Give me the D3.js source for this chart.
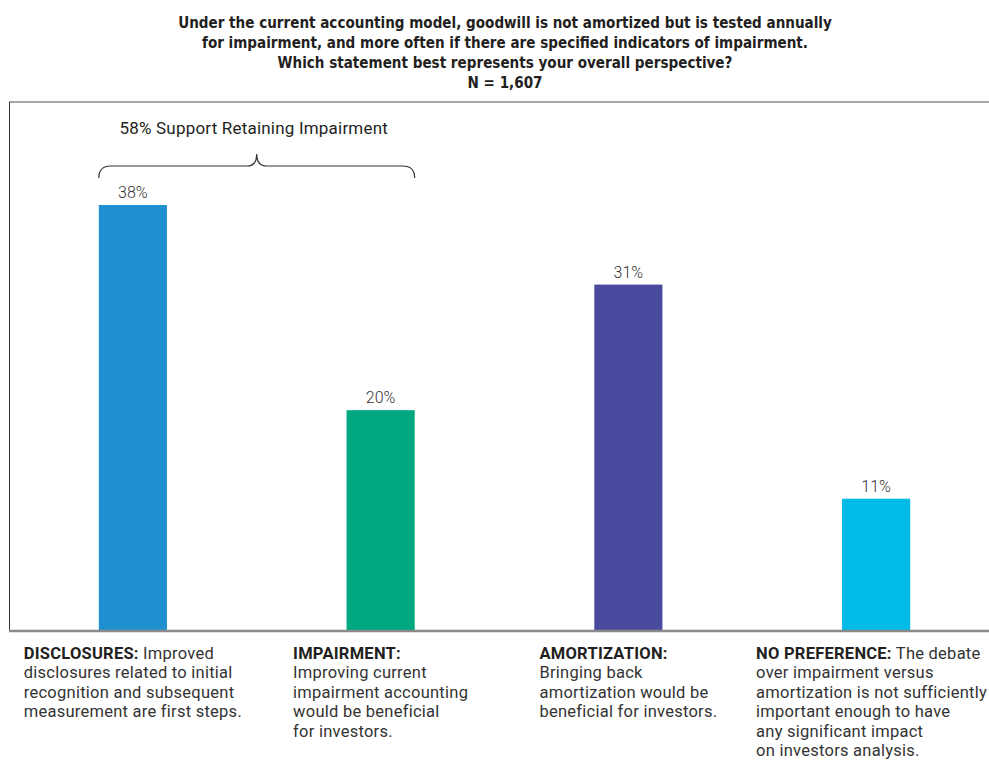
<!DOCTYPE html>
<html>
<head>
<meta charset="utf-8">
<script src="https://cdn.jsdelivr.net/npm/d3@7"></script>
<style>
  html, body { margin: 0; padding: 0; background: #fff; }
  svg { display: block; }
</style>
</head>
<body>
<svg id="chart" width="989" height="761"></svg>
<script>
// ---- data ----
const categories = ["DISCLOSURES", "IMPAIRMENT", "AMORTIZATION", "NO PREFERENCE"];
const values = [38, 19.7, 30.9, 11.8];
const valueLabels = ["38%", "20%", "31%", "11%"];
const barColors = ["#1f8fcf", "#00a882", "#4a4b9e", "#00bbe5"];
const titleLines = [
  "Under the current accounting model, goodwill is not amortized but is tested annually",
  "for impairment, and more often if there are specified indicators of impairment.",
  "Which statement best represents your overall perspective?",
  "N = 1,607"
];
const bracketText = "58% Support Retaining Impairment";
const bracketSpan = ["DISCLOSURES", "IMPAIRMENT"];
// description lines per category: first line gets bold prefix
const descBold = ["DISCLOSURES:", "IMPAIRMENT:", "AMORTIZATION:", "NO PREFERENCE:"];
const descLines = [
  [" Improved", "disclosures related to initial", "recognition and subsequent", "measurement are first steps."],
  ["", "Improving current", "impairment accounting", "would be beneficial", "for investors."],
  ["", "Bringing back", "amortization would be", "beneficial for investors."],
  [" The debate", "over impairment versus", "amortization is not sufficiently", "important enough to have", "any significant impact", "on investors analysis."]
];

// ---- layout ----
const svg = d3.select("#chart");
const W = 989;
const plotLeft = 9, plotRight = 1000, plotTop = 102, plotBottom = 631;
const bodyFont = "Roboto, 'Open Sans', sans-serif";
const titleFont = "'DejaVu Sans Condensed', 'DejaVu Sans', sans-serif";

const x = d3.scaleBand().domain(categories).range([plotLeft, plotRight])
  .paddingInner(0.725).paddingOuter(0.3625);
const y = d3.scaleLinear().domain([0, 38]).range([plotBottom, 205]);

// title
const title = svg.append("g").selectAll("text").data(titleLines).join("text")
  .attr("x", 505).attr("y", (d, i) => 28 + i * 20)
  .attr("text-anchor", "middle")
  .attr("font-family", titleFont).attr("font-weight", "bold")
  .attr("font-size", 16).attr("fill", "#231f20")
  .text(d => d);
// fit title font size so the first line spans the same width as in the original
const w0 = title.node().getComputedTextLength();
title.attr("font-size", 16 * 654 / w0);

// frame
svg.append("line").attr("x1", plotLeft).attr("x2", W).attr("y1", plotTop).attr("y2", plotTop)
  .attr("stroke", "#8a8a8a").attr("stroke-width", 1.5);
svg.append("line").attr("x1", plotLeft + 0.5).attr("x2", plotLeft + 0.5).attr("y1", plotTop).attr("y2", plotBottom)
  .attr("stroke", "#333").attr("stroke-width", 1);

// bars
svg.append("g").selectAll("rect").data(categories).join("rect")
  .attr("x", d => x(d)).attr("width", x.bandwidth())
  .attr("y", (d, i) => y(values[i])).attr("height", (d, i) => plotBottom - y(values[i]))
  .attr("fill", (d, i) => barColors[i]);

// bottom axis line
const xAxis = d3.axisBottom(x).tickSize(0).tickFormat("");
const ax = svg.append("g").attr("transform", `translate(0,${plotBottom})`).call(xAxis);
ax.select(".domain").attr("stroke", "#8a8a8a").attr("stroke-width", 2.5)
  .attr("d", `M${plotLeft},0H${W}`);

// value labels
svg.append("g").selectAll("text").data(categories).join("text")
  .attr("x", d => x(d) + x.bandwidth() / 2)
  .attr("y", (d, i) => y(values[i]) - 7)
  .attr("text-anchor", "middle")
  .attr("font-family", bodyFont).attr("font-weight", 300).attr("font-size", 16).attr("fill", "#333")
  .text((d, i) => valueLabels[i]);

// bracket
const bx0 = x(bracketSpan[0]), bx1 = x(bracketSpan[1]) + x.bandwidth();
const bmid = (bx0 + bx1) / 2;
const yEnd = 178, yBar = 166, yPeak = 154;
const bp = d3.path();
bp.moveTo(bx0, yEnd);
bp.quadraticCurveTo(bx0, yBar, bx0 + 12, yBar);
bp.lineTo(bmid - 10, yBar);
bp.quadraticCurveTo(bmid, yBar, bmid, yPeak);
bp.quadraticCurveTo(bmid, yBar, bmid + 10, yBar);
bp.lineTo(bx1 - 12, yBar);
bp.quadraticCurveTo(bx1, yBar, bx1, yEnd);
svg.append("path").attr("d", bp.toString()).attr("fill", "none").attr("stroke", "#333").attr("stroke-width", 1.2);
svg.append("text").attr("x", bmid - 3).attr("y", 134).attr("text-anchor", "middle")
  .attr("font-family", bodyFont).attr("font-size", 17).attr("letter-spacing", 0.2).attr("fill", "#231f20")
  .text(bracketText);

// description labels (block centered under each bar, left-aligned lines, kept inside the page)
categories.forEach((c, i) => {
  const g = svg.append("g");
  const lines = descLines[i];
  const texts = g.selectAll("text").data(lines).join("text")
    .attr("y", (d, j) => 659 + j * 19.4)
    .attr("font-family", bodyFont).attr("font-size", 16.5).attr("letter-spacing", 0.25).attr("fill", "#333");
  texts.each(function (d, j) {
    const t = d3.select(this);
    if (j === 0) {
      t.append("tspan").attr("font-weight", "bold").attr("fill", "#231f20").text(descBold[i]);
      if (d) t.append("tspan").text(d);
    } else {
      t.text(d);
    }
  });
  let w = 0;
  texts.each(function () { w = Math.max(w, this.getComputedTextLength()); });
  const cx = x(c) + x.bandwidth() / 2;
  const left = Math.min(cx - w / 2, W - 2 - w);
  texts.attr("x", left);
  texts.selectAll("tspan:first-child").attr("x", left);
});
</script>
</body>
</html>
